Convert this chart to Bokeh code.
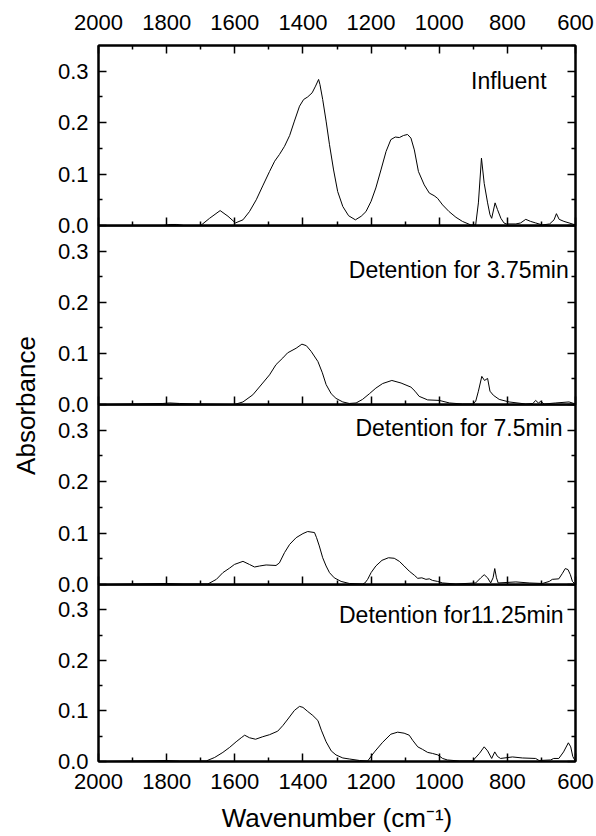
from math import pi
from bokeh.plotting import figure
from bokeh.models import Range1d, LinearAxis, FixedTicker, Label, PrintfTickFormatter
from bokeh.layouts import column, row
from bokeh.embed import file_html
from bokeh.resources import INLINE

FONT = "Liberation Sans"

# ---------------- data ----------------
x_major = [2000, 1800, 1600, 1400, 1200, 1000, 800, 600]
x_minor = [1900, 1700, 1500, 1300, 1100, 900, 700]
y_major = [0.0, 0.1, 0.2, 0.3]
y_minor = [0.05, 0.15, 0.25]

influent_wn = [2000, 1900, 1810, 1790, 1770, 1750, 1700, 1674, 1643, 1620, 1598, 1576, 1557,
               1537, 1518, 1498, 1483, 1469, 1454, 1439, 1425, 1410, 1398, 1386, 1373, 1363,
               1354, 1350, 1342, 1332, 1322, 1310, 1298, 1283, 1266, 1246, 1229, 1215, 1200,
               1186, 1171, 1156, 1142, 1129, 1117, 1105, 1093, 1083, 1073, 1061, 1044, 1029,
               1015, 1005, 990, 971, 951, 932, 907, 893, 885, 876, 868, 858, 851, 846, 836,
               829, 819, 810, 803, 775, 761, 746, 732, 717, 697, 676, 663, 656, 648, 634,
               619, 600]
influent_ab = [0.0, 0.0, 0.0, 0.002, 0.002, 0.0, 0.0, 0.014, 0.029, 0.018, 0.005, 0.011, 0.027,
               0.050, 0.077, 0.105, 0.125, 0.138, 0.154, 0.175, 0.203, 0.232, 0.245, 0.250,
               0.258, 0.271, 0.284, 0.274, 0.245, 0.203, 0.157, 0.108, 0.066, 0.037, 0.019,
               0.011, 0.018, 0.027, 0.047, 0.073, 0.108, 0.144, 0.167, 0.172, 0.171, 0.175,
               0.177, 0.170, 0.147, 0.105, 0.079, 0.063, 0.058, 0.053, 0.040, 0.027, 0.016,
               0.008, 0.001, 0.001, 0.044, 0.131, 0.082, 0.044, 0.021, 0.014, 0.044, 0.031,
               0.014, 0.005, 0.003, 0.003, 0.005, 0.012, 0.008, 0.005, 0.001, 0.003, 0.011,
               0.023, 0.012, 0.008, 0.005, 0.001]

d375_wn = [2000, 1811, 1791, 1762, 1713, 1601, 1576, 1547, 1518, 1498, 1479, 1459, 1445, 1420,
           1403, 1390, 1376, 1356, 1343, 1332, 1317, 1303, 1283, 1264, 1244, 1225, 1205, 1186,
           1166, 1139, 1112, 1083, 1071, 1059, 1034, 1000, 970, 932, 902, 893, 885, 875, 867,
           858, 851, 841, 824, 795, 746, 725, 717, 709, 702, 692, 658, 619, 600]
d375_ab = [0.0, 0.002, 0.003, 0.002, 0.001, 0.0, 0.005, 0.019, 0.042, 0.058, 0.078, 0.091,
           0.101, 0.110, 0.118, 0.115, 0.104, 0.084, 0.062, 0.039, 0.021, 0.012, 0.005, 0.002,
           0.003, 0.010, 0.021, 0.032, 0.041, 0.047, 0.042, 0.034, 0.026, 0.016, 0.009, 0.008,
           0.003, 0.001, 0.001, 0.006, 0.026, 0.055, 0.047, 0.051, 0.026, 0.018, 0.010, 0.005,
           0.001, 0.002, 0.008, 0.003, 0.006, 0.001, 0.003, 0.005, 0.001]

d75_wn = [2000, 1801, 1752, 1679, 1654, 1635, 1615, 1601, 1576, 1557, 1542, 1527, 1508, 1479,
          1469, 1454, 1439, 1420, 1400, 1386, 1366, 1360, 1352, 1342, 1332, 1322, 1308, 1288,
          1264, 1225, 1218, 1210, 1200, 1186, 1168, 1149, 1132, 1117, 1103, 1088, 1073, 1063,
          1051, 1039, 1029, 1020, 1005, 990, 951, 893, 878, 868, 858, 849, 842, 837, 832, 827,
          775, 736, 697, 677, 668, 649, 639, 630, 622, 615, 609, 600]
d75_ab = [0.0, 0.002, 0.001, 0.001, 0.010, 0.023, 0.032, 0.039, 0.045, 0.039, 0.034, 0.036,
          0.038, 0.037, 0.042, 0.062, 0.078, 0.091, 0.099, 0.103, 0.101, 0.091, 0.075, 0.052,
          0.036, 0.023, 0.013, 0.006, 0.002, 0.001, 0.003, 0.010, 0.023, 0.036, 0.047, 0.052,
          0.051, 0.045, 0.036, 0.026, 0.018, 0.012, 0.013, 0.010, 0.011, 0.008, 0.006, 0.003,
          0.001, 0.003, 0.013, 0.019, 0.013, 0.003, 0.013, 0.031, 0.013, 0.003, 0.005, 0.003,
          0.002, 0.006, 0.010, 0.011, 0.021, 0.031, 0.029, 0.019, 0.006, 0.0]

d1125_wn = [2000, 1801, 1762, 1684, 1659, 1635, 1615, 1596, 1581, 1571, 1557, 1539, 1518, 1498,
            1474, 1459, 1444, 1425, 1410, 1400, 1386, 1371, 1356, 1346, 1332, 1317, 1303, 1283,
            1264, 1234, 1210, 1190, 1166, 1142, 1122, 1103, 1088, 1078, 1063, 1049, 1034, 1020,
            1004, 990, 976, 941, 902, 882, 868, 858, 846, 837, 829, 820, 785, 756, 717, 707,
            673, 664, 649, 635, 621, 614, 608, 600]
d1125_ab = [0.0, 0.002, 0.001, 0.001, 0.008, 0.018, 0.028, 0.039, 0.047, 0.052, 0.047, 0.044,
            0.049, 0.053, 0.060, 0.071, 0.084, 0.101, 0.109, 0.107, 0.099, 0.091, 0.081, 0.062,
            0.039, 0.021, 0.013, 0.007, 0.005, 0.002, 0.001, 0.019, 0.038, 0.054, 0.058, 0.056,
            0.052, 0.042, 0.029, 0.024, 0.018, 0.016, 0.013, 0.006, 0.003, 0.001, 0.001, 0.016,
            0.029, 0.021, 0.006, 0.019, 0.010, 0.006, 0.009, 0.007, 0.006, 0.002, 0.003, 0.006,
            0.006, 0.019, 0.037, 0.029, 0.010, 0.0]

series_wn = [influent_wn, d375_wn, d75_wn, d1125_wn]
series_ab = [influent_ab, d375_ab, d75_ab, d1125_ab]
panel_labels = ["Influent", "Detention for 3.75min", "Detention for 7.5min", "Detention for11.25min"]
label_x = [685, 620, 638, 635]
label_y = [0.281, 0.263, 0.304, 0.289]

x_title = "Wavenumber (cm\u207b\u00b9)"
y_title = "Absorbance"


# ---------------- helpers ----------------
def make_axis(major, minor, show_labels, standoff=9, fmt=None):
    ax = LinearAxis(ticker=FixedTicker(ticks=major, minor_ticks=minor))
    ax.axis_line_width = 2
    ax.axis_line_color = "black"
    ax.major_tick_in = 8
    ax.major_tick_out = 0
    ax.minor_tick_in = 4
    ax.minor_tick_out = 0
    ax.major_tick_line_width = 1.5
    ax.minor_tick_line_width = 1.5
    ax.major_tick_line_color = "black"
    ax.minor_tick_line_color = "black"
    if show_labels:
        ax.major_label_text_font = FONT
        ax.major_label_text_font_size = "22px"
        ax.major_label_text_color = "black"
        ax.major_label_standoff = standoff
        if fmt is not None:
            ax.formatter = fmt
    else:
        ax.major_label_text_font_size = "0px"
        ax.major_label_standoff = 0
        ax.major_label_overrides = {t: "" for t in major}
    return ax


BORDER_GAP = 14
TOP_B = 45
BOTTOM_B = 71
heights = [TOP_B + 180 + BORDER_GAP, 179 + BORDER_GAP, 180 + BORDER_GAP, 180 + BOTTOM_B]
tops = [TOP_B, 0, 0, 0]
bottoms = [BORDER_GAP, BORDER_GAP, BORDER_GAP, BOTTOM_B]

panels = []
for i in range(4):
    p = figure(width=548, height=heights[i],
               x_range=Range1d(2000, 600), y_range=Range1d(0, 0.35),
               x_axis_location=None, y_axis_location=None,
               toolbar_location=None, output_backend="svg",
               min_border_left=50, min_border_right=21,
               min_border_top=tops[i], min_border_bottom=bottoms[i],
               background_fill_color=None, border_fill_color=None,
               outline_line_color="black", outline_line_width=2,
               margin=(0 if i == 0 else -BORDER_GAP, 0, 0, 0))
    p.xgrid.visible = False
    p.ygrid.visible = False

    p.add_layout(make_axis(y_major, y_minor, True, 10, PrintfTickFormatter(format="%.1f")), "left")
    p.add_layout(make_axis(y_major, y_minor + [0.35], False), "right")
    if i == 0:
        p.add_layout(make_axis(x_major, x_minor, True, 16), "above")
    if i == 3:
        bx = make_axis(x_major, x_minor, True, 12)
        bx.axis_label = x_title
        bx.axis_label_text_font = FONT
        bx.axis_label_text_font_size = "26px"
        bx.axis_label_text_font_style = "normal"
        bx.axis_label_text_color = "black"
        bx.axis_label_standoff = 11
        p.add_layout(bx, "below")
    else:
        p.add_layout(make_axis(x_major, x_minor, False), "below")

    p.line(series_wn[i], series_ab[i], line_color="black", line_width=1)
    p.add_layout(Label(x=label_x[i], y=label_y[i], text=panel_labels[i],
                       text_align="right", text_baseline="alphabetic",
                       text_font=FONT, text_font_size="23px", text_color="black"))
    panels.append(p)

TOTAL = sum(heights) - 3 * BORDER_GAP

lab = figure(width=48, height=TOTAL, x_range=Range1d(0, 48), y_range=Range1d(0, TOTAL),
             x_axis_location=None, y_axis_location=None, toolbar_location=None,
             output_backend="svg", min_border=0, min_border_left=0, min_border_right=0,
             min_border_top=0, min_border_bottom=0, outline_line_color=None,
             background_fill_color=None, border_fill_color=None)
lab.xgrid.visible = False
lab.ygrid.visible = False
lab.add_layout(Label(x=25, y=TOTAL - 405, text=y_title, angle=pi / 2,
                     text_align="center", text_baseline="middle",
                     text_font=FONT, text_font_size="26px", text_color="black"))

layout = row(lab, column(*panels))

open("out.html", "w").write(file_html(layout, INLINE))
